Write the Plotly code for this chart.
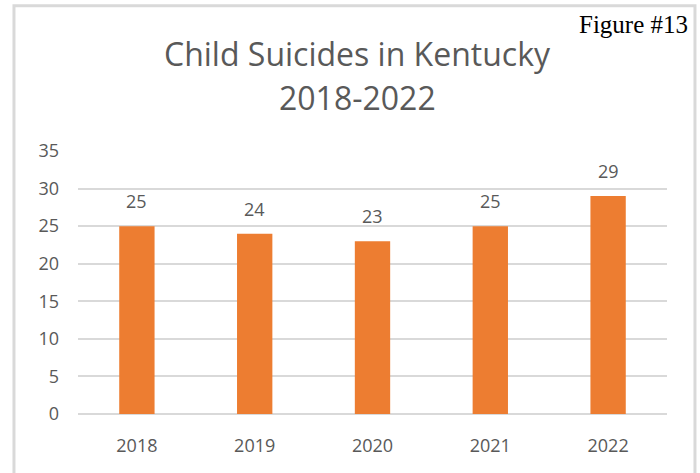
import plotly.graph_objects as go

years = ["2018", "2019", "2020", "2021", "2022"]
suicides = [25, 24, 23, 25, 29]
y_ticks = [0, 5, 10, 15, 20, 25, 30, 35]

BAR_COLOR = "#ED7D31"
TEXT_COLOR = "#595959"
FONT = "Open Sans, Lato, sans-serif"

fig = go.Figure()
fig.add_trace(go.Bar(x=years, y=suicides, marker=dict(color=BAR_COLOR, line=dict(width=0)),
                     hoverinfo="skip"))

# category axis: category i sits at position i
for i, v in enumerate(suicides):
    fig.add_annotation(x=i, y=v, text=str(v), showarrow=False, yanchor="middle",
                       yshift=25, font=dict(size=18, color=TEXT_COLOR, family=FONT))

fig.add_annotation(xref="paper", yref="paper", x=0.4737, y=1.371, text="Child Suicides in Kentucky",
                   showarrow=False, xanchor="center", yanchor="middle",
                   font=dict(size=32, color=TEXT_COLOR, family=FONT))
fig.add_annotation(xref="paper", yref="paper", x=0.4737, y=1.204, text="2018-2022",
                   showarrow=False, xanchor="center", yanchor="middle",
                   font=dict(size=32, color=TEXT_COLOR, family=FONT))

fig.add_annotation(xref="paper", yref="paper", x=1.039, y=1.481, text="Figure #13",
                   showarrow=False, xanchor="right", yanchor="middle",
                   font=dict(size=25, color="black", family="Liberation Serif, Times New Roman, serif"))

fig.add_shape(type="rect", xref="paper", yref="paper", x0=-0.1087, x1=1.0475, y0=-0.26, y1=1.5527,
              line=dict(color="#d9d9d9", width=3), layer="below")

fig.update_layout(
    width=700, height=473,
    margin=dict(l=78, r=33, t=151, b=59),
    paper_bgcolor="white", plot_bgcolor="white",
    showlegend=False, bargap=0.7,
    xaxis=dict(type="category", range=[-0.5, len(years) - 0.5], showgrid=False, showline=False, ticks="",
               tickfont=dict(size=18, color=TEXT_COLOR, family=FONT), ticklabelstandoff=19),
    yaxis=dict(range=[0, 35], tickvals=y_ticks, showgrid=True, gridcolor="#d9d9d9", gridwidth=1.5,
               zeroline=True, zerolinecolor="#d9d9d9", zerolinewidth=1.5, showline=False, ticks="",
               tickfont=dict(size=18, color=TEXT_COLOR, family=FONT), ticklabelstandoff=18),
)

fig.write_html("out.html", config={"displayModeBar": False},
               post_script="document.body.style.margin='0';")
